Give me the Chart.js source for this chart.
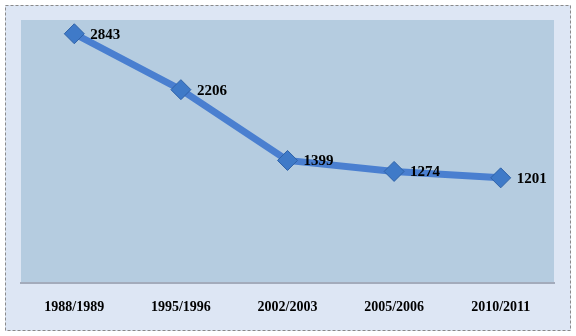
<!DOCTYPE html>
<html>
<head>
<meta charset="utf-8">
<script src="https://cdn.jsdelivr.net/npm/chart.js@4/dist/chart.umd.min.js"></script>
<style>
  html, body { margin: 0; padding: 0; background: #ffffff; }
  #wrap { width: 576px; height: 336px; }
</style>
</head>
<body>
<div id="wrap"><canvas id="chart" width="576" height="336"></canvas></div>
<script>
var categories = ['1988/1989', '1995/1996', '2002/2003', '2005/2006', '2010/2011'];
var values = [2843, 2206, 1399, 1274, 1201];
var yMin = 0, yMax = 3000;

// backgrounds, frame and value labels
var framePlugin = {
	id: 'frame',
	beforeDraw: function (chart) {
		var ctx = chart.ctx, a = chart.chartArea;
		ctx.save();
		ctx.fillStyle = '#dde6f4';
		ctx.fillRect(5, 5, 566, 326);
		ctx.setLineDash([3, 2]);
		ctx.strokeStyle = '#8a8a8a';
		ctx.lineWidth = 1;
		ctx.strokeRect(5.5, 5.5, 565, 325);
		ctx.setLineDash([]);
		ctx.fillStyle = '#b5cce0';
		ctx.fillRect(a.left, a.top, a.right - a.left, a.bottom - a.top);
		ctx.restore();
	},
	afterDatasetsDraw: function (chart) {
		var ctx = chart.ctx;
		var meta = chart.getDatasetMeta(0);
		ctx.save();
		ctx.font = 'bold 15px "Liberation Serif", "Times New Roman", serif';
		ctx.fillStyle = '#000000';
		ctx.textBaseline = 'middle';
		ctx.textAlign = 'left';
		meta.data.forEach(function (pt, i) {
			ctx.fillText(values[i], pt.x + 16, pt.y + 1);
		});
		ctx.restore();
	}
};

var myChart = new Chart(document.getElementById('chart'), {
	type: 'line',
	data: {
		labels: categories,
		datasets: [{
			data: values,
			borderColor: '#4a7fd0',
			borderWidth: 7,
			tension: 0,
			pointStyle: 'rectRot',
			pointRadius: 10,
			pointHoverRadius: 10,
			pointBackgroundColor: '#3f7ac8',
			pointBorderColor: '#2f62a8',
			pointBorderWidth: 1
		}]
	},
	options: {
		responsive: false,
		animation: false,
		layout: { padding: { left: 21, right: 22, top: 20, bottom: 4 } },
		plugins: { legend: { display: false }, tooltip: { enabled: false } },
		scales: {
			x: {
				offset: true,
				grid: { display: false, drawTicks: false },
				border: { display: true, color: '#a3abbb', width: 2 },
				ticks: {
					padding: 16,
					color: '#000000',
					font: { family: '"Liberation Serif", "Times New Roman", serif', size: 14, weight: 'bold' }
				}
			},
			y: {
				display: false,
				min: yMin,
				max: yMax
			}
		}
	},
	plugins: [framePlugin]
});
</script>
</body>
</html>
